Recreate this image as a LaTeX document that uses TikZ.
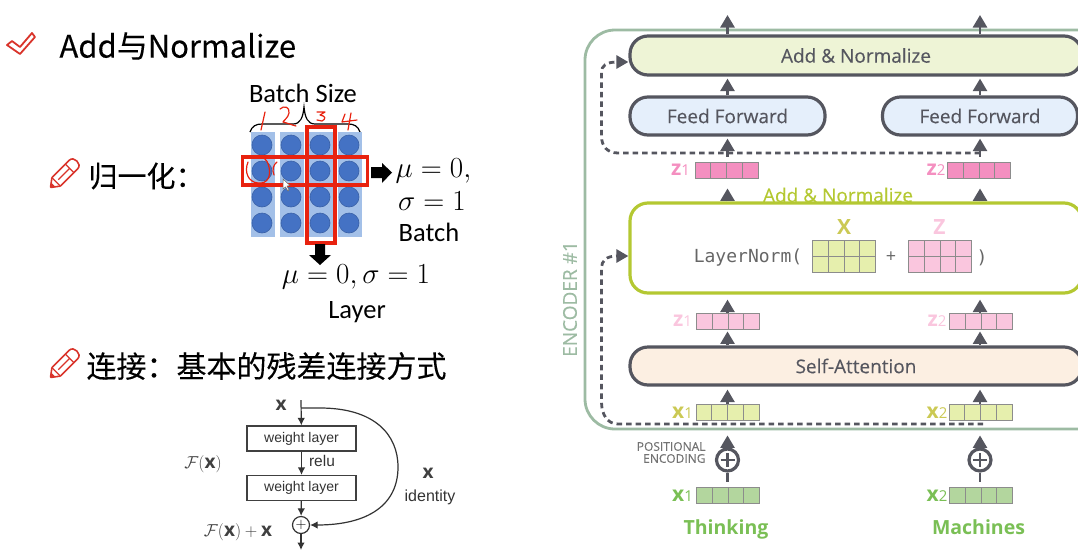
\documentclass[tikz,border=0pt]{standalone}
\usepackage{fontspec}
\usepackage{amsmath}
\setmainfont{Open Sans}
\newfontfamily\medfont[FakeBold=0.3]{Open Sans}
\newfontfamily\cjkfont[FakeBold=0.15]{Noto Sans CJK SC}
\newfontfamily\slidefont{Carlito}
\newfontfamily\codefont{DejaVu Sans Mono}
\newfontfamily\paperfont{Liberation Sans}
\usetikzlibrary{arrows.meta,calc}

\definecolor{slate}{HTML}{55565F}
\definecolor{penred}{HTML}{E8220F}
\definecolor{icon}{HTML}{D9342B}
\definecolor{tile}{HTML}{A3C0E8}
\definecolor{dot}{HTML}{4472C4}
\definecolor{frame}{HTML}{9DBBA3}
\definecolor{lime}{HTML}{B4C832}
\definecolor{limefill}{HTML}{EEF4D6}
\definecolor{bluefill}{HTML}{E5EFFB}
\definecolor{peach}{HTML}{FCEFE2}
\definecolor{xfill}{HTML}{E6EFAD}
\definecolor{xname}{HTML}{CBC954}
\definecolor{pinkdark}{HTML}{F48FC0}
\definecolor{pinklight}{HTML}{FAC6DE}
\definecolor{greenfill}{HTML}{B3D69E}
\definecolor{greenname}{HTML}{7ABF55}

\newcommand{\sized}[1]{\fontsize{#1}{#1}\selectfont}
\newcommand{\vecname}[2]{{\bfseries #1}{\sized{15}#2}}

\tikzset{
  heading/.style={font=\cjkfont\sized{30}, anchor=west, inner sep=0},
  slidetext/.style={font=\slidefont\sized{26.5}, inner sep=0},
  slidemath/.style={font=\sized{24}, scale=1.17, inner sep=0},
  bigarrow/.style={fill=black, draw=none},
  redbox/.style={draw=penred, line width=3.5pt},
  hand/.style={draw=penred, line width=1.2pt, line cap=round, line join=round},
  papertext/.style={font=\paperfont\sized{14}, text=black!80, inner sep=0},
  papermath/.style={font=\sized{19}, text=black!75, inner sep=0},
  layerbox/.style={draw=black!75, line width=1.2pt, minimum width=109pt, minimum height=25pt, inner sep=0},
  resid/.style={-{Latex[length=7.5pt,width=7.5pt]}, line width=1.2pt, black!80},
  block/.style={draw=slate, line width=3.2pt, rounded corners=18pt, inner sep=0, text=slate, font=\medfont\sized{19}},
  flow/.style={-{Triangle[length=12.5pt,width=14pt]}, line width=2.6pt, slate},
  skipline/.style={-{Triangle[length=12pt,width=13pt]}, line width=2.8pt, slate, dash pattern=on 5.5pt off 4pt},
  vecrow/.style={draw=black!45, line width=.9pt, minimum width=63pt, minimum height=16pt, inner sep=0,
    path picture={\foreach \k in {1,2,3}
      \draw[black!45, line width=.9pt] ($(path picture bounding box.north west)!\k/4!(path picture bounding box.north east)$) -- ($(path picture bounding box.south west)!\k/4!(path picture bounding box.south east)$);}},
  vecgrid/.style={vecrow, minimum height=32pt},
  vecname/.style={font=\sized{21}, inner sep=0},
  wordname/.style={text=greenname, font=\bfseries\sized{19.5}, inner sep=0, anchor=base},
  sumnode/.style={circle, draw=slate, line width=3.2pt, minimum size=22pt, inner sep=0,
    path picture={\draw[slate, line width=2.6pt] ($(path picture bounding box.center)+(-7,0)$) -- ($(path picture bounding box.center)+(7,0)$)
      ($(path picture bounding box.center)+(0,-7)$) -- ($(path picture bounding box.center)+(0,7)$);}},
  pencil/.pic={
    \draw[icon, line width=1.6pt, line join=round, rounded corners=.6pt] (0,0) -- (8,-6) -- (32,-6) .. controls (39,-6) and (39,6) .. (32,6) -- (8,6) -- cycle;
    \fill[icon] (0,0) -- (4,-3) -- (4,3) -- cycle;
    \draw[icon, line width=1.2pt] (27,-6) -- (27,6) (11,0) -- (27,0) (8,-6) -- (8,6);
  }
}

\begin{document}
\begin{tikzpicture}[x=1pt, y=-1pt, line width=1pt]
  \useasboundingbox (0,0) rectangle (1078,555);
  \clip (0,0) rectangle (1078,555);

  \draw[icon, line width=1.8pt, line join=round] (7,45) -- (12,41) -- (20,47) -- (32,33) -- (35,37) -- (20,54) -- cycle;
  \node[heading, font=\cjkfont\sized{31}] (title) at (59,46) {Add与Normalize};

  \pic at (50.5,187.5) [rotate=45] {pencil};
  \node[heading, font=\cjkfont\sized{29}] (norm) at (88,176) {归一化：};
  \pic at (50.5,377.5) [rotate=45] {pencil};
  \node[heading] (link) at (86,366) {连接：基本的残差连接方式};

  \node[slidetext] (batchsize) at (303,93) {Batch Size};
  \draw[line width=1.2pt] (250,132) .. controls (252,126) and (256,124) .. (262,124) -- (293,124)
    .. controls (300,124) and (303,118) .. (304,107) .. controls (305,118) and (308,124) .. (315,124) -- (348,124)
    .. controls (354,124) and (358,126) .. (360,132);

  \foreach \x in {263,292,320.5,350}
    \fill[tile] (\x-12,132) rectangle (\x+12,237);
  \foreach \x in {262,291,320,349}
    \foreach \y in {145,171,197,223}
      \node[circle, fill=dot, draw=dot!85!black, line width=.6pt, minimum size=20pt, inner sep=0] at (\x,\y) {};

  \node[redbox, minimum width=125pt, minimum height=28pt, inner sep=0] (layerrow) at (305,171) {};
  \node[redbox, minimum width=28pt, minimum height=116pt, inner sep=0] (batchcol) at (321,185) {};

  \draw[hand] (265,112) -- (261,130);
  \draw[hand] (280,109) .. controls (284,105) and (290,107) .. (289,113) .. controls (288,118) and (284,120) .. (283,122) .. controls (287,123) and (292,125) .. (296,126);
  \draw[hand] (317,112) -- (325,112) -- (320,115) .. controls (326,116) and (326,119) .. (322,121) -- (317,120);
  \draw[hand] (345,114) -- (342,122) -- (357,120) (351,113) -- (348,130);
  \draw[hand] (248,162) .. controls (244,172) and (248,182) .. (258,183) .. controls (268,184) and (271,176) .. (269,167) .. controls (267,158) and (262,155) .. (255,156);
  \draw[hand] (277,162) .. controls (273,165) and (272,170) .. (274,175);
  \draw[black!60, fill=white, line width=.5pt] (283,179) -- (283,189) -- (285.5,187) -- (288,191) -- (289,190) -- (287,186) -- (290,185.5) -- cycle;

  \fill[bigarrow] (371,167) -- (382,167) -- (382,163) -- (392,172.5) -- (382,183) -- (382,178) -- (371,178) -- cycle;
  \fill[bigarrow] (315,244) -- (325,244) -- (325,255) -- (331,255) -- (320,265) -- (309,255) -- (315,255) -- cycle;

  \node[slidemath] (batchmu) at (433.5,171) {$\mu = 0,$};
  \node[slidemath] (batchsigma) at (432,201) {$\sigma = 1$};
  \node[slidetext] (batchname) at (429,232) {Batch};
  \node[slidemath] (layermath) at (356,277) {$\mu = 0, \sigma = 1$};
  \node[slidetext] (layername) at (357,312) {Layer};

  \coordinate (inx) at (301,400);
  \coordinate (skipx) at (301,408);
  \coordinate (outx) at (301,550);
  \node[papermath] (xlabel) at (281,405) {$\mathbf{x}$};
  \node[layerbox, papertext] (w1) at (301.5,438.5) {weight layer};
  \node[layerbox, papertext] (w2) at (301.5,488) {weight layer};
  \node[circle, draw=black!80, line width=1.2pt, minimum size=17pt, inner sep=0, font=\sized{15}] (sumx) at (301,525) {$+$};
  \node[papermath] (fx) at (203,464) {$\mathcal{F}(\mathbf{x})$};
  \node[papertext, font=\paperfont\sized{15.5}] (relu) at (322,461) {relu};
  \node[papermath] (xid) at (428,473) {$\mathbf{x}$};
  \node[papertext, font=\paperfont\sized{16}] (identity) at (430,497) {identity};
  \node[papermath] (fxx) at (238,532) {$\mathcal{F}(\mathbf{x}) + \mathbf{x}$};

  \draw[resid] (inx) -- (w1);
  \draw[resid] (w1) -- (w2);
  \draw[resid] (w2) -- (sumx);
  \draw[resid] (sumx) -- (outx);
  \draw[resid] (skipx) -- (320,408) .. controls (375,408) and (398,435) .. (398,467) .. controls (398,505) and (368,525) .. (sumx.east);

  \draw[frame, line width=2.8pt, rounded corners=30pt] (1100,30) -- (585,30) -- (585,429) -- (1100,429);
  \node[rotate=90, text=frame, font=\medfont\sized{19}, inner sep=0] (encoder) at (570,299) {ENCODER \#1};

  \node[block, fill=limefill, minimum width=452pt, minimum height=39pt] (addnorm) at (856,55.5) {Add \& Normalize};
  \node[block, fill=bluefill, minimum width=195pt, minimum height=38pt] (ff1) at (727.5,116) {Feed Forward};
  \node[block, fill=bluefill, minimum width=195pt, minimum height=38pt] (ff2) at (980,116) {Feed Forward};
  \node[block, draw=lime, fill=white, minimum width=452pt, minimum height=90pt] (layernorm) at (856,248) {};
  \node[block, fill=peach, minimum width=452pt, minimum height=38pt] (selfattn) at (856,366) {Self-Attention};

  \node[text=lime, font=\medfont\sized{19}, inner sep=0] (addlabel) at (838,195) {Add \& Normalize};
  \node[text=black!60, font=\codefont\sized{18}, inner sep=0] (lnopen) at (748,258) {LayerNorm(};
  \node[vecgrid, fill=xfill] (xgrid) at (844,256) {};
  \draw[black!45, line width=.9pt] (xgrid.west) -- (xgrid.east);
  \node[text=black!60, font=\sized{18}, inner sep=0] (lnplus) at (891,257) {+};
  \node[vecgrid, fill=pinklight] (zgrid) at (940,256) {};
  \draw[black!45, line width=.9pt] (zgrid.west) -- (zgrid.east);
  \node[text=black!60, font=\codefont\sized{18}, inner sep=0] (lnclose) at (982,258) {)};
  \node[text=xname, font=\bfseries\sized{21}, inner sep=0] (xtitle) at (844,227) {X};
  \node[text=pinklight, font=\bfseries\sized{21}, inner sep=0] (ztitle) at (939.5,227) {Z};

  \node[vecrow, fill=pinkdark] (zd1) at (726.5,170) {};
  \node[vecrow, fill=pinkdark] (zd2) at (979,170) {};
  \node[vecrow, fill=pinklight] (zl1) at (728,321) {};
  \node[vecrow, fill=pinklight] (zl2) at (981,321) {};
  \node[vecrow, fill=xfill] (xl1) at (727.5,412) {};
  \node[vecrow, fill=xfill] (xl2) at (980.5,412) {};
  \node[vecrow, fill=greenfill] (xg1) at (728,495.5) {};
  \node[vecrow, fill=greenfill] (xg2) at (981,495.5) {};

  \node[vecname, text=pinkdark] at (680.5,170) {\vecname{z}{1}};
  \node[vecname, text=pinkdark] at (936,170) {\vecname{z}{2}};
  \node[vecname, text=pinklight] at (682.5,321) {\vecname{z}{1}};
  \node[vecname, text=pinklight] at (937,321) {\vecname{z}{2}};
  \node[vecname, text=xname] at (682.5,413) {\vecname{x}{1}};
  \node[vecname, text=xname] at (937,413) {\vecname{x}{2}};
  \node[vecname, text=greenname] at (682.5,496) {\vecname{x}{1}};
  \node[vecname, text=greenname] at (937,496) {\vecname{x}{2}};

  \node[sumnode] (pe1) at (727.5,460) {};
  \node[sumnode] (pe2) at (980,460) {};
  \node[text=black!55, font=\medfont\sized{12}, align=right, inner sep=0, anchor=east] (pelabel) at (706,452.5) {POSITIONAL\\ENCODING};
  \node[wordname] (thinking) at (726,534) {Thinking};
  \node[wordname] (machines) at (978.5,534) {Machines};

  \coordinate (out1) at (727.5,15);
  \coordinate (out2) at (980,15);
  \coordinate (skipa) at (980,153);
  \coordinate (skipb) at (983,424);

  \foreach \i/\o in {1/out1,2/out2}
    \draw[flow] (addnorm.north -| ff\i) -- (\o);
  \foreach \i in {1,2} {
    \draw[flow, shorten >=2pt] (ff\i.north) -- (addnorm.south -| ff\i);
    \draw[flow, shorten <=5pt, shorten >=2pt] (zd\i.north -| ff\i) -- (ff\i.south);
    \draw[flow, shorten >=10pt] (layernorm.north -| ff\i) -- (zd\i.south -| ff\i);
    \draw[flow, shorten >=5pt] (zl\i.north -| ff\i) -- (layernorm.south -| ff\i);
    \draw[flow, shorten >=2pt] (selfattn.north -| ff\i) -- (zl\i.south -| ff\i);
    \draw[flow, shorten >=3pt] (xl\i.north -| ff\i) -- (selfattn.south -| ff\i);
    \draw[flow, shorten >=15pt] (pe\i.north) -- (xl\i.south -| pe\i);
    \draw[slate, line width=2.8pt, shorten >=5pt] (pe\i.south) -- (xg\i.north -| pe\i);
  }

  \draw[skipline] (skipa) -- (618,153) .. controls (607,153) and (601.5,146) .. (601.5,136) -- (601.5,72) .. controls (601.5,66) and (606,62) .. ([yshift=-6.5pt]addnorm.west);
  \draw[skipline] (skipb) -- (618,424) .. controls (607,424) and (601.5,414) .. (601.5,402) -- (601.5,268) .. controls (601.5,261) and (606,256) .. ([yshift=-8pt]layernorm.west);
\end{tikzpicture}
\end{document}
